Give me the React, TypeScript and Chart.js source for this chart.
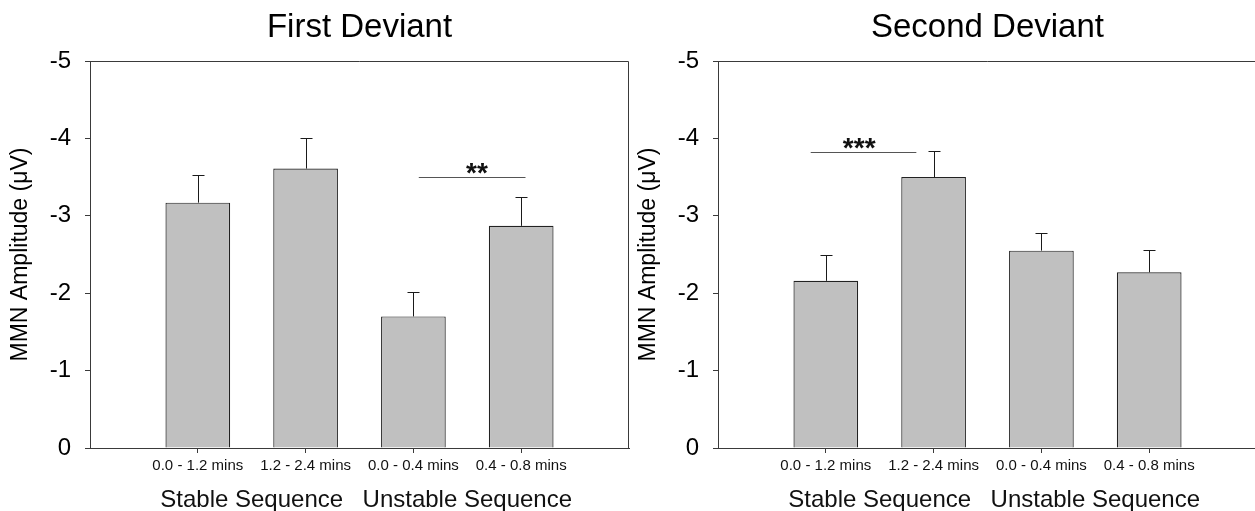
import React, { useEffect, useRef } from "react";
import { Chart, registerables } from "chart.js";

Chart.register(...registerables);

// ---- data ----
const categories = ["0.0 - 1.2 mins", "1.2 - 2.4 mins", "0.0 - 0.4 mins", "0.4 - 0.8 mins"];
const categoryPositions = [1, 2, 3, 4];
const groupLabels = ["Stable Sequence", "Unstable Sequence"];
const groupPositions = [1.5, 3.5];
const yTicks = [-5, -4, -3, -2, -1, 0];
const yTitle = "MMN Amplitude (\u03bcV)";

const firstTitle = "First Deviant";
const firstMeans = [-3.17, -3.61, -1.7, -2.87];
const firstErrors = [0.36, 0.39, 0.31, 0.37];
const firstSigSpan = [3.05, 4.04];
const firstSigLevel = -3.5;
const firstSigLabel = "**";
const firstSigLabelAt = 3.59;

const secondTitle = "Second Deviant";
const secondMeans = [-2.16, -3.5, -2.55, -2.27];
const secondErrors = [0.34, 0.34, 0.23, 0.29];
const secondSigSpan = [0.86, 1.84];
const secondSigLevel = -3.83;
const secondSigLabel = "***";
const secondSigLabelAt = 1.31;

const FONT = "'Liberation Sans', Arial, Helvetica, sans-serif";
const AXIS_COLOR = "#3a3a3a";

type PanelProps = {
  title: string;
  means: number[];
  errors: number[];
  sigSpan: number[];
  sigLevel: number;
  sigLabel: string;
  sigLabelAt: number;
  left: number;
};

function Panel(props: PanelProps) {
  const ref = useRef<HTMLCanvasElement | null>(null);

  useEffect(() => {
    const canvas = ref.current;
    if (!canvas) return;
    const { title, means, errors, sigSpan, sigLevel, sigLabel, sigLabelAt } = props;

    const decorations = {
      id: "decorations",
      afterDatasetsDraw(chart: any) {
        const { ctx, chartArea } = chart;
        const x = chart.scales.x;
        const y = chart.scales.y;
        ctx.save();
        // error bars (upward = more negative)
        ctx.strokeStyle = "#1a1a1a";
        ctx.lineWidth = 1;
        means.forEach((m, i) => {
          const px = Math.round(x.getPixelForValue(categoryPositions[i])) + 0.5;
          const y0 = y.getPixelForValue(m);
          const y1 = Math.round(y.getPixelForValue(m - errors[i])) + 0.5;
          ctx.beginPath();
          ctx.moveTo(px, y0);
          ctx.lineTo(px, y1);
          ctx.moveTo(px - 6, y1);
          ctx.lineTo(px + 6, y1);
          ctx.stroke();
        });
        // top and right frame
        ctx.strokeStyle = AXIS_COLOR;
        const t = Math.round(chartArea.top) + 0.5;
        const r = Math.round(chartArea.right) - 0.5;
        ctx.beginPath();
        ctx.moveTo(chartArea.left, t);
        ctx.lineTo(r, t);
        ctx.lineTo(r, chartArea.bottom);
        ctx.stroke();
        // significance line
        const sy = Math.round(y.getPixelForValue(sigLevel)) + 0.5;
        ctx.strokeStyle = "#555";
        ctx.beginPath();
        ctx.moveTo(x.getPixelForValue(sigSpan[0]), sy);
        ctx.lineTo(x.getPixelForValue(sigSpan[1]), sy);
        ctx.stroke();
        ctx.fillStyle = "#111";
        ctx.font = `bold 28px ${FONT}`;
        ctx.textAlign = "center";
        ctx.textBaseline = "alphabetic";
        ctx.fillText(sigLabel, x.getPixelForValue(sigLabelAt), sy + 4);
        ctx.restore();
      },
    };

    const chart = new Chart(canvas, {
      type: "bar",
      data: {
        datasets: [
          {
            data: means.map((v, i) => ({ x: categoryPositions[i], y: v })),
            backgroundColor: "#c0c0c0",
            borderColor: "#222",
            borderWidth: 1.2,
            categoryPercentage: 1,
            barPercentage: 0.6,
          },
        ],
      },
      options: {
        responsive: false,
        animation: false,
        layout: { padding: { left: 0, right: 1, top: 0, bottom: 0 } },
        plugins: {
          legend: { display: false },
          tooltip: { enabled: false },
          title: {
            display: true,
            text: title,
            fullSize: false,
            color: "#000",
            font: { family: FONT, size: 33, weight: "normal" },
            padding: { top: 8, bottom: 13.4 },
          },
        },
        scales: {
          x: {
            type: "linear",
            position: "bottom",
            min: 0,
            max: 5,
            offset: false,
            weight: 0,
            afterBuildTicks: (s: any) => {
              s.ticks = categoryPositions.map((v) => ({ value: v }));
            },
            afterFit: (s: any) => {
              s.height = 30;
            },
            ticks: {
              autoSkip: false,
              maxRotation: 0,
              minRotation: 0,
              padding: 4,
              color: "#111",
              font: { family: FONT, size: 15 },
              callback: (_v: any, i: number) => categories[i],
            },
            grid: {
              offset: false,
              drawOnChartArea: false,
              drawTicks: true,
              tickLength: 5,
              color: AXIS_COLOR,
            },
            border: { display: true, color: AXIS_COLOR, width: 1 },
          },
          x2: {
            type: "linear",
            position: "bottom",
            min: 0,
            max: 5,
            offset: false,
            weight: 1,
            afterBuildTicks: (s: any) => {
              s.ticks = groupPositions.map((v) => ({ value: v }));
            },
            afterFit: (s: any) => {
              s.height = 33;
            },
            ticks: {
              autoSkip: false,
              maxRotation: 0,
              minRotation: 0,
              padding: 0,
              color: "#111",
              font: { family: FONT, size: 24 },
              callback: (_v: any, i: number) => groupLabels[i],
            },
            grid: { display: false },
            border: { display: false },
          },
          y: {
            type: "linear",
            reverse: true,
            min: -5,
            max: 0,
            afterBuildTicks: (s: any) => {
              s.ticks = yTicks.map((v) => ({ value: v }));
            },
            afterFit: (s: any) => {
              s.width = 90;
            },
            ticks: {
              padding: 14,
              color: "#000",
              font: { family: FONT, size: 24 },
              callback: (v: any) => String(v),
            },
            grid: {
              drawOnChartArea: false,
              drawTicks: true,
              tickLength: 5,
              color: AXIS_COLOR,
            },
            border: { display: true, color: AXIS_COLOR, width: 1 },
            title: {
              display: true,
              text: yTitle,
              color: "#000",
              font: { family: FONT, size: 23 },
              padding: { top: 7, bottom: 0 },
            },
          },
        },
      } as any,
      plugins: [decorations],
    });

    return () => chart.destroy();
  }, []);

  return (
    <canvas
      ref={ref}
      width={630}
      height={511}
      style={{ position: "absolute", left: props.left, top: 0, width: 630, height: 511 }}
    />
  );
}

export default function App() {
  return (
    <div
      style={{
        position: "absolute",
        left: 0,
        top: 0,
        width: 1255,
        height: 511,
        overflow: "hidden",
        background: "#fff",
      }}
    >
      <Panel
        title={firstTitle}
        means={firstMeans}
        errors={firstErrors}
        sigSpan={firstSigSpan}
        sigLevel={firstSigLevel}
        sigLabel={firstSigLabel}
        sigLabelAt={firstSigLabelAt}
        left={0}
      />
      <Panel
        title={secondTitle}
        means={secondMeans}
        errors={secondErrors}
        sigSpan={secondSigSpan}
        sigLevel={secondSigLevel}
        sigLabel={secondSigLabel}
        sigLabelAt={secondSigLabelAt}
        left={628}
      />
    </div>
  );
}
